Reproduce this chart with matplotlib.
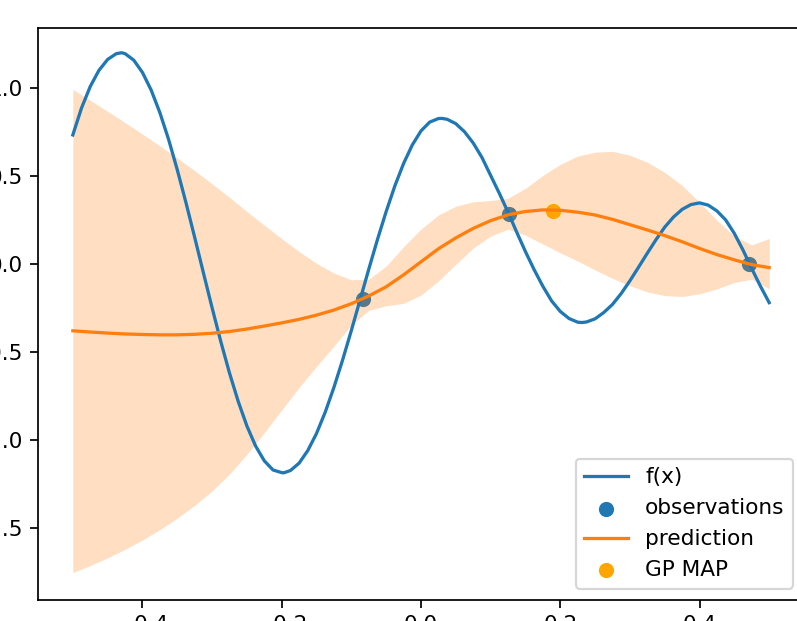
import numpy as np
import matplotlib
matplotlib.use("Agg")
import matplotlib.pyplot as plt

# f(x) (step 0.0125, plus the read extrema)
f_x = [-0.5000, -0.4875, -0.4750, -0.4625, -0.4500, -0.4375, -0.4300, -0.4250, -0.4125, -0.4000,
       -0.3875, -0.3750, -0.3625, -0.3500, -0.3375, -0.3250, -0.3125, -0.3000, -0.2875, -0.2750,
       -0.2625, -0.2500, -0.2375, -0.2250, -0.2125, -0.2000, -0.1970, -0.1875, -0.1750, -0.1625,
       -0.1500, -0.1375, -0.1250, -0.1125, -0.1000, -0.0875, -0.0750, -0.0625, -0.0500, -0.0375,
       -0.0250, -0.0125, 0.0000, 0.0125, 0.0250, 0.0300, 0.0375, 0.0500, 0.0625, 0.0750,
       0.0875, 0.1000, 0.1125, 0.1250, 0.1375, 0.1500, 0.1625, 0.1750, 0.1875, 0.2000,
       0.2125, 0.2250, 0.2310, 0.2375, 0.2500, 0.2625, 0.2750, 0.2875, 0.3000, 0.3125,
       0.3250, 0.3375, 0.3500, 0.3625, 0.3750, 0.3875, 0.4000, 0.4125, 0.4250, 0.4375,
       0.4500, 0.4625, 0.4750, 0.4875, 0.5000]
f_y = [0.735, 0.888, 1.010, 1.102, 1.164, 1.197, 1.202, 1.197, 1.160, 1.090,
       0.990, 0.862, 0.710, 0.537, 0.350, 0.153, -0.048, -0.247, -0.439, -0.618,
       -0.779, -0.919, -1.033, -1.117, -1.169, -1.184, -1.185, -1.172, -1.130, -1.058,
       -0.961, -0.840, -0.699, -0.543, -0.376, -0.202, -0.028, 0.141, 0.300, 0.446,
       0.573, 0.678, 0.758, 0.808, 0.828, 0.829, 0.824, 0.799, 0.753, 0.689,
       0.607, 0.505, 0.403, 0.296, 0.182, 0.072, -0.031, -0.125, -0.208, -0.268,
       -0.308, -0.329, -0.331, -0.328, -0.310, -0.274, -0.228, -0.166, -0.094, -0.016,
       0.063, 0.140, 0.211, 0.268, 0.312, 0.339, 0.349, 0.336, 0.303, 0.252,
       0.175, 0.080, -0.025, -0.125, -0.218]

# observations
obs_x = [-0.083, 0.127, 0.471]
obs_y = [-0.200, 0.283, 0.000]

# GP prediction (step 0.025)
pred_x = np.linspace(-0.5, 0.5, 41)
pred_mean = [-0.378, -0.385, -0.391, -0.396, -0.399, -0.401, -0.401, -0.398, -0.392, -0.382,
             -0.368, -0.351, -0.333, -0.313, -0.289, -0.260, -0.224, -0.180, -0.128, -0.060,
             0.014, 0.088, 0.150, 0.204, 0.248, 0.281, 0.300, 0.309, 0.307, 0.296,
             0.280, 0.255, 0.225, 0.195, 0.163, 0.128, 0.090, 0.055, 0.025, -0.002,
             -0.019]
pred_upper = [0.994, 0.932, 0.869, 0.805, 0.740, 0.673, 0.604, 0.532, 0.457, 0.380,
              0.300, 0.222, 0.146, 0.072, 0.005, -0.050, -0.088, -0.085, -0.010, 0.100,
              0.200, 0.280, 0.330, 0.355, 0.362, 0.375, 0.432, 0.505, 0.568, 0.615,
              0.637, 0.642, 0.620, 0.580, 0.522, 0.448, 0.352, 0.250, 0.160, 0.110,
              0.147]
pred_lower = [-1.752, -1.712, -1.668, -1.620, -1.567, -1.508, -1.443, -1.370, -1.288, -1.192,
              -1.080, -0.957, -0.828, -0.700, -0.580, -0.465, -0.345, -0.262, -0.236, -0.222,
              -0.175, -0.095, 0.000, 0.092, 0.160, 0.200, 0.165, 0.115, 0.065, 0.018,
              -0.032, -0.080, -0.122, -0.157, -0.178, -0.183, -0.168, -0.140, -0.103, -0.085,
              -0.140]

map_x = [0.189]
map_y = [0.304]

W, H, DPI = 798, 621, 156
fig = plt.figure(figsize=(W / DPI, H / DPI), dpi=DPI)
left, right, top, bottom = 38, 804, 28.3, 599.5
ax = fig.add_axes([left / W, (H - bottom) / H, (right - left) / W, (bottom - top) / H])

ax.plot(f_x, f_y, label="f(x)")
ax.scatter(obs_x, obs_y, label="observations")
ax.plot(pred_x, pred_mean, label="prediction")
ax.fill_between(pred_x, pred_lower, pred_upper, color="C1", alpha=0.25, linewidth=0)
ax.scatter(map_x, map_y, color="orange", label="GP MAP")

ax.set_xlim(-0.55, 0.55)
ax.set_ylim(-1.905, 1.341)
ax.set_xticks([-0.4, -0.2, 0.0, 0.2, 0.4])
ax.set_yticks([-1.5, -1.0, -0.5, 0.0, 0.5, 1.0])
ax.legend(loc="lower right")

fig.savefig("out.png", dpi=DPI)
